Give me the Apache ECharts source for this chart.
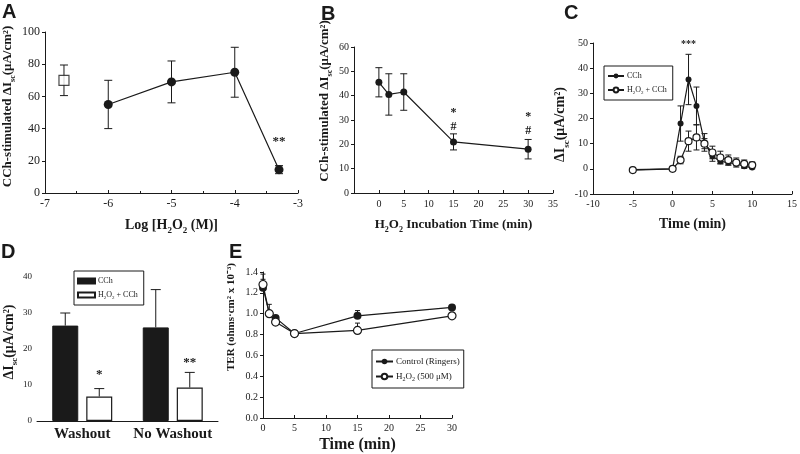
<!DOCTYPE html>
<html>
<head>
<meta charset="utf-8">
<script src="https://cdn.jsdelivr.net/npm/echarts@6/dist/echarts.min.js"></script>
<style>
  html, body { margin: 0; background: #fff; }
  #main { width: 800px; height: 454px; }
</style>
</head>
<body>
<div id="main"></div>
<script>
// ---- panel A: dose response
const aDose = [-6, -5, -4, -3.3];
const aResp = [55, 69, 75, 14.5];
const aErr = [15, 13, 15.5, 2.5];
const aCtrlDose = [-6.7];
const aCtrlResp = [70];
const aCtrlErr = [9.5];
const aMarkX = [-3.3];
const aMarkY = [32];
const aMarkText = ['**'];

// ---- panel B: incubation time
const bTime = [0, 2, 5, 15, 30];
const bResp = [45.5, 40.5, 41.5, 21, 18];
const bErr = [6, 8.5, 7.5, 3.3, 4];
const bMarkX = [15, 15, 30, 30];
const bMarkY = [32.8, 27.2, 31.2, 25.6];
const bMarkText = ['*', '#', '*', '#'];

// ---- panel C: time course
const cTime = [-5, 0, 1, 2, 3, 4, 5, 6, 7, 8, 9, 10];
const cCch = [-0.3, 0, 18, 35.5, 25, 10.5, 5, 3, 2.5, 2, 1, 0.5];
const cCchErr = [0, 0, 7, 10, 7.5, 3.5, 2, 1, 1, 0.8, 0.8, 0.5];
const cH2o2 = [-0.5, 0, 3.5, 11, 12.5, 10, 6.5, 4.5, 3.5, 2.5, 2, 1.5];
const cH2o2Err = [0, 0, 1.5, 4, 5, 2, 2.5, 2.5, 2, 1.8, 1.5, 1.2];
const cMarkX = [2];
const cMarkY = [49.5];
const cMarkText = ['***'];

// ---- panel D: washout bars
const dCats = ['Washout', 'No Washout'];
const dCch = [26.5, 26];
const dCchErr = [3.5, 10.5];
const dH2o2 = [6.8, 9.3];
const dH2o2Err = [2.2, 4.2];
const dStarY = [12.8, 16.2];
const dStarText = ['*', '**'];

// ---- panel E: TER
const eTime = [0, 1, 2, 5, 15, 30];
const eCtrl = [1.25, 1.0, 0.96, 0.81, 0.98, 1.06];
const eCtrlErr = [0.13, 0.02, 0.02, 0.01, 0.05, 0.02];
const eH2o2 = [1.28, 1.0, 0.92, 0.81, 0.84, 0.98];
const eH2o2Err = [0.05, 0.09, 0.02, 0.01, 0.07, 0.02];

const letters = ['A', 'B', 'C', 'D', 'E'];

const SERIF = '"Liberation Serif", "Times New Roman", serif';
const SANS = '"Liberation Sans", Arial, sans-serif';
const ink = '#1a1a1a';

let chart = echarts.init(document.getElementById('main'));

function rich(size) {
    let small = Math.round(size * 0.62);
    return {
        b: {fontFamily: SERIF, fontWeight: 'bold', fontSize: size, color: ink, lineHeight: size + 6},
        sub: {fontFamily: SERIF, fontWeight: 'bold', fontSize: small, color: ink, lineHeight: small + 1, verticalAlign: 'bottom'}
    };
}

// shift > 0 moves a rotated y-axis name up, < 0 down
function nameStyle(size, shift) {
    let s = {rich: rich(size)};
    if (shift > 0) s.padding = [0, 0, 0, 2 * shift];
    if (shift < 0) s.padding = [0, -2 * shift, 0, 0];
    return s;
}

function axis(grid, fontSize, extra) {
    return Object.assign({
        gridIndex: grid, type: 'value', nameLocation: 'middle',
        axisLine: {onZero: false, lineStyle: {color: ink, width: 1}},
        axisTick: {length: 3, lineStyle: {color: ink}},
        axisLabel: {color: ink, fontFamily: SERIF, fontSize: fontSize, margin: 5},
        splitLine: {show: false}
    }, extra);
}

function line(name, grid, xs, ys, open, size) {
    return {
        name: name, type: 'line', xAxisIndex: grid, yAxisIndex: grid, z: 3,
        data: xs.map((x, i) => [x, ys[i]]),
        symbol: 'circle', symbolSize: size,
        itemStyle: open ? {color: '#fff', borderColor: ink, borderWidth: 1.2} : {color: ink},
        lineStyle: {color: ink, width: 1.2},
        emphasis: {disabled: true}
    };
}

function errorBars(grid, xs, ys, errs, upOnly, cap, shift) {
    return {
        type: 'custom', xAxisIndex: grid, yAxisIndex: grid, z: 1, silent: true,
        encode: {x: 0, y: [1, 2]},
        data: xs.map((x, i) => [x, upOnly ? ys[i] : ys[i] - errs[i], ys[i] + errs[i]]),
        renderItem: function (params, api) {
            let top = api.coord([api.value(0), api.value(2)]);
            let bot = api.coord([api.value(0), api.value(1)]);
            let x = top[0] + (shift || 0);
            let st = {stroke: ink, lineWidth: 1};
            let kids = [
                {type: 'line', shape: {x1: x, y1: bot[1], x2: x, y2: top[1]}, style: st},
                {type: 'line', shape: {x1: x - cap, y1: top[1], x2: x + cap, y2: top[1]}, style: st}
            ];
            if (!upOnly) {
                kids.push({type: 'line', shape: {x1: x - cap, y1: bot[1], x2: x + cap, y2: bot[1]}, style: st});
            }
            return {type: 'group', children: kids};
        }
    };
}

function marks(grid, xs, ys, texts, size, shift) {
    return {
        type: 'custom', xAxisIndex: grid, yAxisIndex: grid, z: 4, silent: true,
        data: xs.map((x, i) => [x, ys[i]]),
        renderItem: function (params, api) {
            let p = api.coord([api.value(0), api.value(1)]);
            return {
                type: 'text', x: p[0] + (shift || 0), y: p[1],
                style: {text: texts[params.dataIndex], fill: ink, font: 'bold ' + size + 'px ' + SERIF,
                    align: 'center', verticalAlign: 'middle'}
            };
        }
    };
}

const legendText = {
    cCch: 'CCh', cH2o2: 'H{s|2}O{s|2} + CCh',
    dCch: 'CCh', dH2o2: 'H{s|2}O{s|2} + CCh',
    eCtrl: 'Control (Ringers)', eH2o2: 'H{s|2}O{s|2} (500 μM)'
};

function legend(names, left, top, fontSize, extra) {
    return Object.assign({
        data: names, left: left, top: top, orient: 'vertical', selectedMode: false,
        itemWidth: 16, itemHeight: 6, itemGap: 3, padding: [5, 6, 5, 3],
        borderColor: ink, borderWidth: 1, backgroundColor: '#fff',
        textStyle: {fontFamily: SERIF, fontSize: fontSize, color: ink, lineHeight: fontSize + 2, padding: [0, 0, 0, -2],
            rich: {s: {fontFamily: SERIF, fontSize: fontSize - 3, color: ink, lineHeight: fontSize - 3, verticalAlign: 'bottom'}}},
        formatter: n => legendText[n]
    }, extra);
}

const barGapPx = 8, barW = 26;

let option = {
    backgroundColor: '#fff',
    animation: false,
    title: letters.map((t, i) => ({
        text: t, left: [2, 321, 564, 1, 229][i], top: [2, 4, 3, 242, 242][i], padding: 0,
        textStyle: {fontFamily: SANS, fontWeight: 'bold', fontSize: 20, color: ink}
    })),
    grid: [
        {left: 43, top: 32, width: 255, height: 161},
        {left: 354, top: 47, width: 199, height: 146},
        {left: 593, top: 43, width: 202, height: 151},
        {left: 37, top: 277, width: 181, height: 144},
        {left: 263, top: 272, width: 189, height: 151}
    ],
    xAxis: [
        axis(0, 12, {min: -7, max: -3, interval: 1, minorTick: {show: true, splitNumber: 2, length: 2},
            axisTick: {inside: true, length: 3, lineStyle: {color: ink}},
            name: '{b|Log [H}{sub|2}{b|O}{sub|2}{b| (M)]}', nameGap: 22, nameTextStyle: nameStyle(14, 0)}),
        axis(1, 10, {min: -5, max: 35, interval: 5,
            axisTick: {inside: true, length: 3, lineStyle: {color: ink}},
            axisLabel: {color: ink, fontFamily: SERIF, fontSize: 10, margin: 6, formatter: v => v < 0 ? '' : v},
            name: '{b|H}{sub|2}{b|O}{sub|2}{b| Incubation Time (min)}', nameGap: 22, nameTextStyle: nameStyle(13, 0)}),
        axis(2, 10, {min: -10, max: 15, interval: 5,
            axisTick: {inside: true, length: 3, lineStyle: {color: ink}},
            name: '{b|Time (min)}', nameGap: 20, nameTextStyle: nameStyle(14, 0)}),
        {gridIndex: 3, type: 'category', data: dCats,
            axisLine: {lineStyle: {color: ink, width: 1}}, axisTick: {show: false},
            axisLabel: {interval: 0, color: ink, fontFamily: SERIF, fontWeight: 'bold', fontSize: 15, margin: 6}},
        axis(4, 10, {min: 0, max: 30, interval: 5,
            axisTick: {inside: true, length: 3, lineStyle: {color: ink}},
            name: '{b|Time (min)}', nameGap: 16, nameTextStyle: nameStyle(16, 0)})
    ],
    yAxis: [
        axis(0, 12, {min: 0, max: 100, interval: 20,
            name: '{b|CCh-stimulated ΔI}{sub|sc}{b|(μA/cm²)}', nameGap: 28, nameTextStyle: nameStyle(13, 6)}),
        axis(1, 10, {min: 0, max: 60, interval: 10,
            name: '{b|CCh-stimulated ΔI}{sub|sc}{b|(μA/cm²)}', nameGap: 20, nameTextStyle: nameStyle(13, 19)}),
        axis(2, 10, {min: -10, max: 50, interval: 10,
            name: '{b|ΔI}{sub|sc}{b|(μA/cm²)}', nameGap: 19, nameTextStyle: nameStyle(14, -6)}),
        axis(3, 9, {min: 0, max: 40, interval: 10,
            name: '{b|ΔI}{sub|sc}{b|(μA/cm²)}', nameGap: 18, nameTextStyle: nameStyle(14, 7)}),
        axis(4, 10, {min: 0, max: 1.4, interval: 0.2,
            axisLabel: {color: ink, fontFamily: SERIF, fontSize: 10, margin: 5, formatter: v => v.toFixed(1)},
            name: '{b|TER (ohms·cm² x 10⁻³)}', nameGap: 23, nameTextStyle: nameStyle(11, 28)})
    ],
    legend: [
        legend(['cCch', 'cH2o2'], 604, 66, 8, {itemGap: 4}),
        legend(['dCch', 'dH2o2'], 74, 271, 8, {itemWidth: 17, itemHeight: 5, icon: 'rect', itemGap: 4}),
        legend(['eCtrl', 'eH2o2'], 372, 350, 9, {itemWidth: 17, itemHeight: 7, itemGap: 4, padding: [6, 4, 6, 3]})
    ],
    series: [
        // A
        errorBars(0, aDose, aResp, aErr, false, 4),
        errorBars(0, aCtrlDose, aCtrlResp, aCtrlErr, false, 4),
        line('aResp', 0, aDose, aResp, false, 9),
        {name: 'aCtrl', type: 'scatter', xAxisIndex: 0, yAxisIndex: 0, z: 3, symbol: 'rect', symbolSize: 10,
            data: aCtrlDose.map((x, i) => [x, aCtrlResp[i]]),
            itemStyle: {color: '#fff', borderColor: ink, borderWidth: 1.2}},
        marks(0, aMarkX, aMarkY, aMarkText, 13),
        // B
        errorBars(1, bTime, bResp, bErr, false, 3.5),
        line('bResp', 1, bTime, bResp, false, 7),
        marks(1, bMarkX, bMarkY, bMarkText, 12),
        // C
        errorBars(2, cTime, cCch, cCchErr, false, 3),
        errorBars(2, cTime, cH2o2, cH2o2Err, false, 3),
        line('cCch', 2, cTime, cCch, false, 6),
        line('cH2o2', 2, cTime, cH2o2, true, 7),
        marks(2, cMarkX, cMarkY, cMarkText, 10),
        // D
        {name: 'dCch', type: 'bar', xAxisIndex: 3, yAxisIndex: 3, data: dCch, barWidth: barW, barGap: (barGapPx / barW * 100) + '%',
            itemStyle: {color: ink, borderColor: ink, borderWidth: 1}},
        {name: 'dH2o2', type: 'bar', xAxisIndex: 3, yAxisIndex: 3, data: dH2o2, barWidth: barW,
            itemStyle: {color: '#fff', borderColor: ink, borderWidth: 1.2}},
        errorBars(3, [0, 1], dCch, dCchErr, true, 5, -(barW + barGapPx) / 2),
        errorBars(3, [0, 1], dH2o2, dH2o2Err, true, 5, (barW + barGapPx) / 2),
        marks(3, [0, 1], dStarY, dStarText, 13, (barW + barGapPx) / 2),
        // E
        errorBars(4, eTime, eCtrl, eCtrlErr, true, 2.5),
        errorBars(4, eTime, eH2o2, eH2o2Err, true, 2.5),
        line('eCtrl', 4, eTime, eCtrl, false, 8),
        line('eH2o2', 4, eTime, eH2o2, true, 8)
    ]
};

chart.setOption(option);
</script>
</body>
</html>
